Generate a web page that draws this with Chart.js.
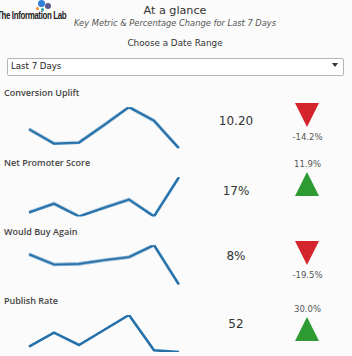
<!DOCTYPE html>
<html><head><meta charset="utf-8">
<script src="https://cdn.jsdelivr.net/npm/chart.js@4/dist/chart.umd.min.js"></script>
<style>
html,body{margin:0;padding:0;}
body{width:352px;height:356px;position:relative;overflow:hidden;background:#fbfbfb;font-family:"DejaVu Sans",sans-serif;color:#333;}
.abs{position:absolute;white-space:nowrap;}
.c{transform:translateX(-50%);}
.title{font-family:"Open Sans",sans-serif;font-size:9px;font-weight:600;color:#444;left:4px;}
.val{font-size:12px;color:#333;}
.pct{font-size:8.5px;color:#555;}
.tri{position:absolute;width:0;height:0;}
</style></head><body>
<!-- logo -->
<div class="abs" style="left:38px;top:0px;width:7px;height:7px;border-radius:50%;background:#2f7fd8"></div>
<div class="abs" style="left:45px;top:3px;width:6px;height:6px;border-radius:50%;background:#5a5a8a"></div>
<div class="abs" style="left:36px;top:7px;width:3px;height:3px;border-radius:50%;background:#f08a24"></div>
<div class="abs" style="left:41px;top:8px;width:3px;height:3px;border-radius:50%;background:#2aa3a3"></div>
<div class="abs" style="left:-3px;top:9px;font-family:'Liberation Sans Narrow','Liberation Sans',sans-serif;font-size:11px;font-weight:bold;color:#222;letter-spacing:-0.5px;transform-origin:left;transform:scaleX(0.72)">The Information Lab</div>

<div class="abs c" style="left:175px;top:4px;font-size:11.2px;color:#333">At a glance</div>
<div class="abs c" style="left:175px;top:18px;font-size:8.3px;font-style:italic;color:#555">Key Metric &amp; Percentage Change for Last 7 Days</div>
<div class="abs c" style="left:175px;top:38px;font-size:8.8px;color:#333">Choose a Date Range</div>

<div class="abs" style="left:7px;top:58px;width:335px;height:16px;border:1px solid #b5b5b5;border-radius:2px;background:#fff"></div>
<div class="abs" style="left:11px;top:61px;font-size:8.6px;color:#222">Last 7 Days</div>
<div class="abs" style="left:332px;top:63px;width:0;height:0;border-left:3.5px solid transparent;border-right:3.5px solid transparent;border-top:4px solid #333"></div>

<div id="rows"></div>

<script>
const days = ["D1","D2","D3","D4","D5","D6","D7"];
const metricNames = ["Conversion Uplift","Net Promoter Score","Would Buy Again","Publish Rate"];
const keyValues = ["10.20","17%","8%","52"];
const pctChange = [-14.2, 11.9, -19.5, 30.0];
const conversionUplift = [12.07, 10.67, 10.77, 12.47, 14.24, 12.90, 10.20];
const netPromoter = [13.56, 14.40, 13.16, 14.00, 14.80, 13.16, 17.00];
const wouldBuyAgain = [9.49, 8.99, 9.02, 9.20, 9.35, 9.94, 8.00];
const publishRate = [57.4, 71.4, 59.0, 74.0, 89.0, 53.7, 52.0];
const series = [conversionUplift, netPromoter, wouldBuyAgain, publishRate];

// layout (pixels)
const titleTop = [86, 156, 225, 294];
const lineTop = [107.3, 177.3, 245.3, 314.7];
const lineBottom = [147.7, 215.7, 284, 351.7];
const valueTop = [114, 184, 249, 317];
const triTop = [102.5, 172, 240.7, 316.7];
const lineLeft = 29, lineWidthPx = 150, pad = 3;

const root = document.getElementById('rows');
series.forEach((data, i) => {
  const t = document.createElement('div');
  t.className = 'abs title'; t.style.top = titleTop[i] + 'px'; t.textContent = metricNames[i];
  root.appendChild(t);

  const v = document.createElement('div');
  v.className = 'abs c val'; v.style.left = '236px'; v.style.top = valueTop[i] + 'px'; v.textContent = keyValues[i];
  root.appendChild(v);

  const up = pctChange[i] >= 0;
  const tri = document.createElement('div');
  tri.className = 'tri';
  tri.style.left = '295px'; tri.style.top = triTop[i] + 'px';
  tri.style.borderLeft = '12.5px solid transparent';
  tri.style.borderRight = '12.5px solid transparent';
  if (up) tri.style.borderBottom = '24px solid #2e9b32';
  else tri.style.borderTop = '24px solid #d3252b';
  root.appendChild(tri);

  const p = document.createElement('div');
  p.className = 'abs c pct'; p.style.left = '307.5px';
  p.style.top = (up ? triTop[i] - 13 : triTop[i] + 29) + 'px';
  p.textContent = pctChange[i].toFixed(1) + '%';
  root.appendChild(p);

  const wrap = document.createElement('div');
  const h = lineBottom[i] - lineTop[i] + 2 * pad;
  wrap.style.cssText = `position:absolute;left:${lineLeft - pad}px;top:${lineTop[i] - pad}px;width:${lineWidthPx + 2*pad}px;height:${h}px`;
  const cv = document.createElement('canvas');
  wrap.appendChild(cv); root.appendChild(wrap);
  new Chart(cv, {
    type: 'line',
    data: { labels: days, datasets: [{ data, borderColor: '#2470aa', borderWidth: 2.6, pointRadius: 0, tension: 0, fill: false, borderJoinStyle: 'miter' }] },
    options: {
      responsive: true, maintainAspectRatio: false, animation: false,
      layout: { padding: pad },
      plugins: { legend: { display: false }, tooltip: { enabled: false } },
      scales: {
        x: { display: false, offset: false },
        y: { display: false, min: Math.min(...data), max: Math.max(...data) }
      }
    }
  });
});
</script>
</body></html>
